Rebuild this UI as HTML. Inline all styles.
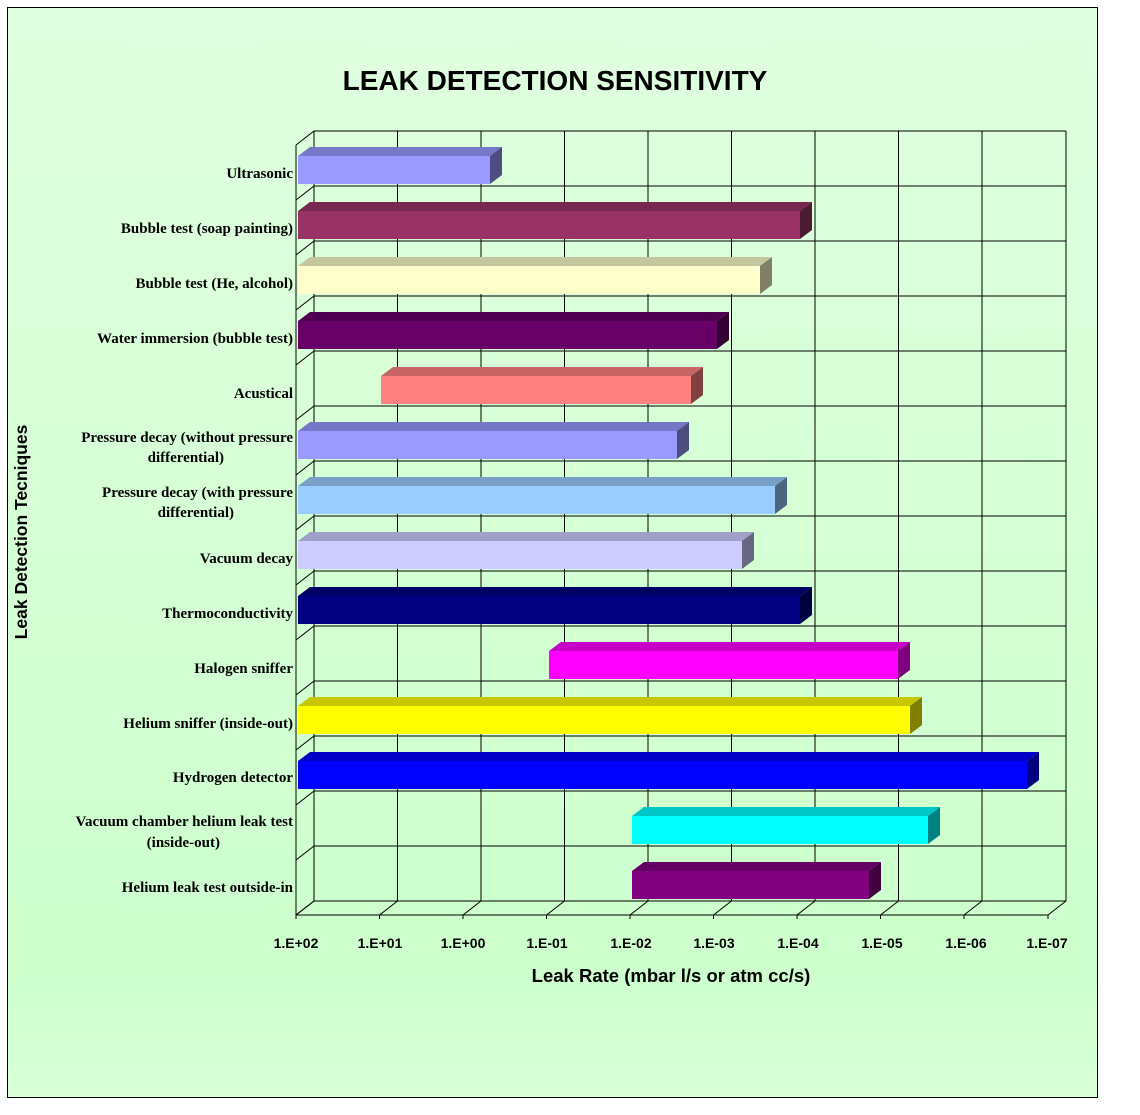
<!DOCTYPE html>
<html><head><meta charset="utf-8"><style>
html,body{margin:0;padding:0;background:#fff;width:1140px;height:1115px;overflow:hidden}
svg{display:block}
.lab{font-family:"Liberation Serif",serif;font-weight:bold;font-size:15px;fill:#000}
.tk{font-family:"Liberation Sans",sans-serif;font-weight:bold;font-size:14px;fill:#000}
</style></head><body>
<svg id="s" width="1140" height="1115" xmlns="http://www.w3.org/2000/svg">
<defs><linearGradient id="bg" x1="0" y1="0" x2="0" y2="1">
<stop offset="0" stop-color="#e0ffe0"/><stop offset="0.88" stop-color="#ccffcc"/><stop offset="1" stop-color="#d8ffd8"/></linearGradient></defs>
<rect x="7.5" y="7.5" width="1090" height="1090" fill="url(#bg)" stroke="#000" stroke-width="1"/>
<g id="grid" stroke="#000" stroke-width="1" fill="none"></g>
<g id="bars"></g>
<text x="555" y="90" text-anchor="middle" style="font-family:'Liberation Sans',sans-serif;font-weight:bold;font-size:28px">LEAK DETECTION SENSITIVITY</text>
<g class="lab" text-anchor="end">
<text x="293" y="178">Ultrasonic</text>
<text x="293" y="233">Bubble test (soap painting)</text>
<text x="293" y="288">Bubble test (He, alcohol)</text>
<text x="293" y="343">Water immersion (bubble test)</text>
<text x="293" y="398">Acustical</text>
<text x="293" y="442">Pressure decay (without pressure</text>
<text x="224" y="462">differential)</text>
<text x="293" y="497">Pressure decay (with pressure</text>
<text x="234" y="517">differential)</text>
<text x="293" y="563">Vacuum decay</text>
<text x="293" y="618">Thermoconductivity</text>
<text x="293" y="673">Halogen sniffer</text>
<text x="293" y="728">Helium sniffer (inside-out)</text>
<text x="293" y="782">Hydrogen detector</text>
<text x="293" y="826">Vacuum chamber helium leak test</text>
<text x="220" y="847">(inside-out)</text>
<text x="293" y="892">Helium leak test outside-in</text>
</g>
<g class="tk" text-anchor="middle">
<text x="296" y="948">1.E+02</text><text x="380" y="948">1.E+01</text><text x="463" y="948">1.E+00</text>
<text x="547" y="948">1.E-01</text><text x="631" y="948">1.E-02</text><text x="714" y="948">1.E-03</text>
<text x="798" y="948">1.E-04</text><text x="882" y="948">1.E-05</text><text x="966" y="948">1.E-06</text>
<text x="1047" y="948">1.E-07</text>
</g>
<text x="671" y="982" text-anchor="middle" style="font-family:'Liberation Sans',sans-serif;font-weight:bold;font-size:18.5px">Leak Rate (mbar l/s or atm cc/s)</text>
<text transform="translate(27,532) rotate(-90)" text-anchor="middle" style="font-family:'Liberation Sans',sans-serif;font-weight:bold;font-size:17.5px">Leak Detection Tecniques</text>
</svg>
<script>
(function(){
var NS="http://www.w3.org/2000/svg";
function el(p,t,a){var e=document.createElementNS(NS,t);for(var k in a)e.setAttribute(k,a[k]);p.appendChild(e);return e;}
var g=document.getElementById('grid');
var fx0=296,step=83.5,dx=18,dy=14,T=131,rh=55,bot=901;
function line(x1,y1,x2,y2){el(g,'line',{x1:x1,y1:y1,x2:x2,y2:y2});}
for(var i=0;i<=9;i++){var fx=fx0+i*step;if(i==9)fx=1048;var bx=fx+dx;
 line(bx,T,bx,bot);line(fx,bot+dy,bx,bot);line(fx,bot+dy,fx,bot+dy+4);}
for(var j=0;j<=14;j++){var y=T+j*rh;if(j==14)y=bot;line(fx0+dx,y,1066,y);line(fx0,y+dy,fx0+dx,y);}
line(fx0,T+dy,fx0,bot+dy);line(fx0,bot+dy,1048,bot+dy);
var bars=[[298,490,"#9999FF"],[298,800,"#993366"],[298,760,"#FFFFCC"],[298,717,"#660066"],[381,691,"#FF8080"],[298,677,"#9999FF"],[298,775,"#99CCFF"],[298,742,"#CCCCFF"],[298,800,"#000080"],[549,898,"#FF00FF"],[298,910,"#FFFF00"],[298,1027,"#0000FF"],[632,928,"#00FFFF"],[632,869,"#800080"]];
function sh(c,f){var r=parseInt(c.substr(1,2),16),gg=parseInt(c.substr(3,2),16),b=parseInt(c.substr(5,2),16);return "rgb("+Math.round(r*f)+","+Math.round(gg*f)+","+Math.round(b*f)+")";}
var B=document.getElementById('bars');
bars.forEach(function(b,j){var y1=T+j*rh+25,y2=y1+28,x1=b[0],x2=b[1],ox=12,oy=9;
 el(B,'polygon',{points:x1+","+y1+" "+(x1+ox)+","+(y1-oy)+" "+(x2+ox)+","+(y1-oy)+" "+x2+","+y1,fill:sh(b[2],0.78)});
 el(B,'polygon',{points:x2+","+y1+" "+(x2+ox)+","+(y1-oy)+" "+(x2+ox)+","+(y2-oy)+" "+x2+","+y2,fill:sh(b[2],0.5)});
 el(B,'rect',{x:x1,y:y1,width:x2-x1,height:y2-y1,fill:b[2]});});
})();
</script>
</body></html>
